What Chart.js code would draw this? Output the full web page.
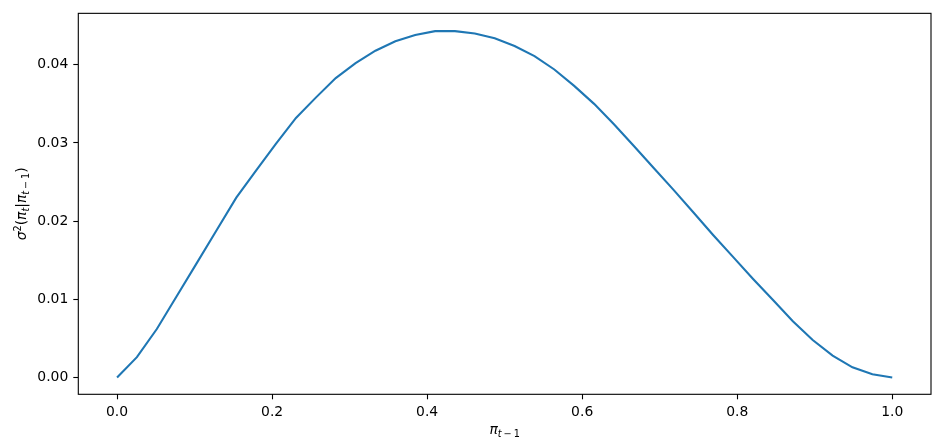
<!DOCTYPE html>
<html>
<head>
<meta charset="utf-8">
<script src="https://cdn.jsdelivr.net/npm/chart.js@4.4.1/dist/chart.umd.min.js"></script>
<style>
  html, body { margin: 0; padding: 0; background: #fff; }
  #wrap { width: 940px; height: 448px; }
</style>
</head>
<body>
<div id="wrap"><canvas id="c" width="940" height="448"></canvas></div>
<script>
// ---- data ----
const piPrev = [0.0000, 0.0256, 0.0513, 0.0769, 0.1026, 0.1282, 0.1538, 0.1795, 0.2051, 0.2308,
                0.2564, 0.2821, 0.3077, 0.3333, 0.3590, 0.3846, 0.4103, 0.4359, 0.4615, 0.4872,
                0.5128, 0.5385, 0.5641, 0.5897, 0.6154, 0.6410, 0.6667, 0.6923, 0.7179, 0.7436,
                0.7692, 0.7949, 0.8205, 0.8462, 0.8718, 0.8974, 0.9231, 0.9487, 0.9744, 1.0000];
const condVar = [0.0000, 0.0026, 0.0062, 0.0104, 0.0146, 0.0188, 0.0230, 0.0265, 0.0299, 0.0332,
                 0.0358, 0.0383, 0.0402, 0.0418, 0.0430, 0.0438, 0.0443, 0.0443, 0.0440, 0.0434,
                 0.0424, 0.0411, 0.0394, 0.0373, 0.0350, 0.0324, 0.0296, 0.0268, 0.0240, 0.0211,
                 0.0182, 0.0154, 0.0126, 0.0099, 0.0072, 0.0048, 0.0028, 0.0013, 0.0004, 0.0000];
const xTickValues = [0, 0.2, 0.4, 0.6, 0.8, 1.0];
const xTickLabels = ['0.0', '0.2', '0.4', '0.6', '0.8', '1.0'];
const yTickValues = [0, 0.01, 0.02, 0.03, 0.04];
const yTickLabels = ['0.00', '0.01', '0.02', '0.03', '0.04'];
// axis titles as rich-text pieces: [text, italic, role]  (role: '' normal, 'sub', 'sup')
const xTitleParts = [['π', true, ''], ['t', true, 'sub'], ['\u2009−\u20091', false, 'sub']];
const yTitleParts = [['σ', true, ''], ['2', false, 'sup'], ['(', false, ''], ['π', true, ''], ['t', true, 'sub'],
                     ['|', false, ''], ['π', true, ''], ['t', true, 'sub'], ['\u2009−\u20091', false, 'sub'], [')', false, '']];

const FONT = "'DejaVu Sans', sans-serif";
Chart.defaults.color = '#000';
Chart.defaults.font.family = FONT;
Chart.defaults.font.size = 13.9;

const points = piPrev.map((x, i) => ({ x: x, y: condVar[i] }));

function richFont(p) {
  const size = p[2] ? 9.7 : 13.9;
  return (p[1] ? 'italic ' : '') + size + 'px ' + FONT;
}
function richWidth(ctx, parts) {
  let w = 0;
  parts.forEach(p => { ctx.font = richFont(p); w += ctx.measureText(p[0]).width; });
  return w;
}
function drawRich(ctx, parts, cx, cy) {
  const w = richWidth(ctx, parts);
  let x = cx - w / 2;
  const base = cy + 5;
  ctx.textAlign = 'left';
  ctx.textBaseline = 'alphabetic';
  parts.forEach(p => {
    ctx.font = richFont(p);
    const dy = p[2] === 'sub' ? 3 : (p[2] === 'sup' ? -5.5 : 0);
    ctx.fillText(p[0], x, base + dy);
    x += ctx.measureText(p[0]).width;
  });
}

const frame = {
  id: 'frame',
  afterDraw(chart) {
    const a = chart.chartArea, ctx = chart.ctx;
    ctx.save();
    ctx.strokeStyle = '#000';
    ctx.lineWidth = 1.1;
    ctx.strokeRect(a.left, a.top, a.right - a.left, a.bottom - a.top);
    ctx.fillStyle = '#000';
    drawRich(ctx, xTitleParts, (a.left + a.right) / 2, 429);
    ctx.translate(21, (a.top + a.bottom) / 2);
    ctx.rotate(-Math.PI / 2);
    drawRich(ctx, yTitleParts, 0, 0);
    ctx.restore();
  }
};

function labelFor(values, labels) {
  return function (v) {
    const i = values.findIndex(t => Math.abs(t - v) < 1e-9);
    return i >= 0 ? labels[i] : '';
  };
}

new Chart(document.getElementById('c'), {
  type: 'line',
  data: {
    datasets: [{
      data: points,
      borderColor: '#1f77b4',
      borderWidth: 2.1,
      pointRadius: 0,
      fill: false,
      tension: 0
    }]
  },
  options: {
    responsive: false,
    animation: false,
    devicePixelRatio: 1,
    layout: { padding: { top: 9.3, right: 9, left: 0, bottom: 0 } },
    plugins: { legend: { display: false }, tooltip: { enabled: false } },
    scales: {
      x: {
        type: 'linear',
        min: -0.05,
        max: 1.05,
        afterBuildTicks: s => { s.ticks = xTickValues.map(v => ({ value: v })); },
        afterFit: s => { s.height = 53.7; },
        border: { display: false },
        grid: { drawOnChartArea: false, drawTicks: true, tickLength: 5, tickColor: '#000', tickWidth: 1.1 },
        ticks: { padding: 5, maxRotation: 0, autoSkip: false, callback: labelFor(xTickValues, xTickLabels) },
        title: { display: false }
      },
      y: {
        type: 'linear',
        min: -0.002152,
        max: 0.04658,
        afterBuildTicks: s => { s.ticks = yTickValues.map(v => ({ value: v })); },
        afterFit: s => { s.width = 78.3; },
        border: { display: false },
        grid: { drawOnChartArea: false, drawTicks: true, tickLength: 5, tickColor: '#000', tickWidth: 1.1 },
        ticks: { padding: 5, autoSkip: false, callback: labelFor(yTickValues, yTickLabels) },
        title: { display: false }
      }
    }
  },
  plugins: [frame]
});
</script>
</body>
</html>
